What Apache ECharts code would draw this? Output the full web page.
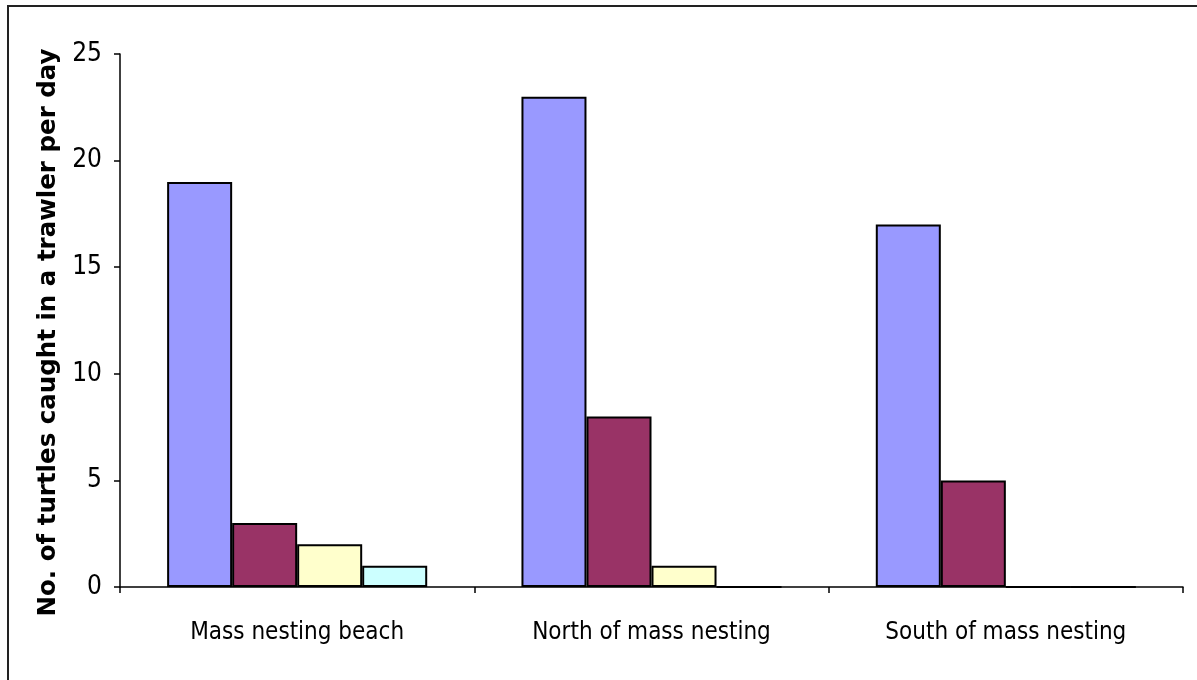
<!DOCTYPE html>
<html>
<head>
<meta charset="utf-8">
<script src="https://cdn.jsdelivr.net/npm/echarts@6/dist/echarts.min.js"></script>
<style>
  html, body { margin: 0; padding: 0; background: #fff; }
  #chart { width: 1197px; height: 680px; }
</style>
</head>
<body>
<div id="chart"></div>
<script>
// Turtle by-catch per trawler per day, by area
const categories = ['Mass nesting beach', 'North of mass nesting', 'South of mass nesting'];
const seriesA = [19, 23, 17];
const seriesB = [3, 8, 5];
const seriesC = [2, 1, 0];
const seriesD = [1, 0, 0];
const yTicks = { min: 0, max: 25, interval: 5 };
const yTitle = 'No. of turtles caught in a trawler per day';

const narrowFont = "'Liberation Sans Narrow', 'Arial Narrow', 'DejaVu Sans Condensed', sans-serif";
const barColors = ['#9999FF', '#993366', '#FFFFCC', '#CCFFFF'];

function barSeries(name, values, color) {
  return {
    name: name,
    type: 'bar',
    data: values,
    barGap: '0%',
    barCategoryGap: '26.6%',
    itemStyle: { color: color, borderColor: '#000', borderWidth: 2 },
    emphasis: { disabled: true }
  };
}

const chart = echarts.init(document.getElementById('chart'), null, { renderer: 'canvas' });
chart.setOption({
  animation: false,
  backgroundColor: '#fff',
  grid: { left: 120, top: 54, right: 14, bottom: 93, containLabel: false },
  graphic: [{
    type: 'rect',
    shape: { x: 8, y: 6, width: 1200, height: 700 },
    style: { fill: 'none', stroke: '#222', lineWidth: 2 },
    silent: true
  }],
  xAxis: {
    type: 'category',
    data: categories,
    axisLine: { lineStyle: { color: '#000', width: 1.5 } },
    axisTick: { show: true, length: 6, lineStyle: { color: '#000', width: 1.5 } },
    axisLabel: { interval: 0, color: '#000', fontFamily: narrowFont, fontSize: 24, margin: 34 }
  },
  yAxis: {
    type: 'value',
    min: yTicks.min,
    max: yTicks.max,
    interval: yTicks.interval,
    name: yTitle,
    nameLocation: 'middle',
    nameGap: 52,
    nameTextStyle: { color: '#000', fontFamily: "'DejaVu Sans', sans-serif", fontWeight: 'bold', fontSize: 24.5, padding: [0, 24, 0, 0] },
    axisLine: { show: true, lineStyle: { color: '#000', width: 1.5 } },
    axisTick: { show: true, length: 6, lineStyle: { color: '#000', width: 1.5 } },
    splitLine: { show: false },
    axisLabel: { color: '#000', fontFamily: narrowFont, fontSize: 26, margin: 18 }
  },
  series: [
    barSeries('Series 1', seriesA, barColors[0]),
    barSeries('Series 2', seriesB, barColors[1]),
    barSeries('Series 3', seriesC, barColors[2]),
    barSeries('Series 4', seriesD, barColors[3])
  ]
});
</script>
</body>
</html>
